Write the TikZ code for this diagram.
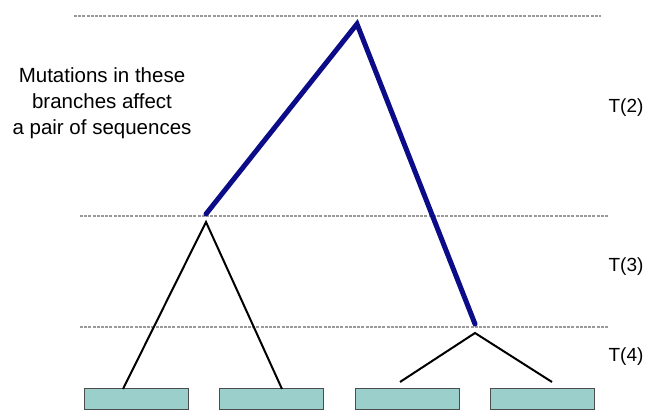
\documentclass[tikz,border=0pt]{standalone}
\usepackage{fontspec}
\setmainfont{Liberation Sans}
\definecolor{leaf}{HTML}{9BCFCB}
\definecolor{branch}{HTML}{0C0C88}
\definecolor{guide}{HTML}{9A9A9A}
\begin{document}
\begin{tikzpicture}[x=1pt,y=-1pt,
  guideline/.style={guide,line width=2.5pt,dash pattern=on 3pt off 1.2pt},
  thick branch/.style={branch,line width=5pt,line cap=round},
  thin branch/.style={black,line width=2pt},
  leafbox/.style={draw=black!70,line width=1pt,fill=leaf,minimum width=104pt,minimum height=21pt,inner sep=0pt},
  lbl/.style={font=\fontsize{19}{23}\selectfont,inner sep=0pt}]
\useasboundingbox (0,0) rectangle (651,411);
% guide lines
\coordinate (g1a) at (74,16); \coordinate (g1b) at (601,16);
\coordinate (g2a) at (80,216); \coordinate (g2b) at (608,216);
\coordinate (g3a) at (80,327); \coordinate (g3b) at (608,327);
\draw[guideline] (g1a) -- (g1b);
\draw[guideline] (g2a) -- (g2b);
\draw[guideline] (g3a) -- (g3b);
% leaves
\node[leafbox] (l1) at (136,399.5) {};
\node[leafbox] (l2) at (271,399.5) {};
\node[leafbox] (l3) at (407,399.5) {};
\node[leafbox] (l4) at (542,399.5) {};
% tree nodes
\coordinate (root) at (357,24);
\coordinate (n1) at (206,214);
\coordinate (n2) at (475,324);
\coordinate (n1b) at (206,222);
\coordinate (n2b) at (475,333);
\coordinate (e1) at (123,389);
\coordinate (e2) at (282,389);
\coordinate (e3) at (400,382);
\coordinate (e4) at (552,382);
\draw[thick branch] (n1) -- (root) -- (n2);
\draw[thin branch] (e1) -- (n1b) -- (e2);
\draw[thin branch] (e3) -- (n2b) -- (e4);
% labels
\node[lbl,align=center,font=\fontsize{20.5}{26}\selectfont] (txt) at (102,103) {Mutations in these\\branches affect\\a pair of sequences};
\node[lbl] (t2) at (626,108) {T(2)};
\node[lbl] (t3) at (626,267) {T(3)};
\node[lbl] (t4) at (626,357) {T(4)};
\end{tikzpicture}
\end{document}
